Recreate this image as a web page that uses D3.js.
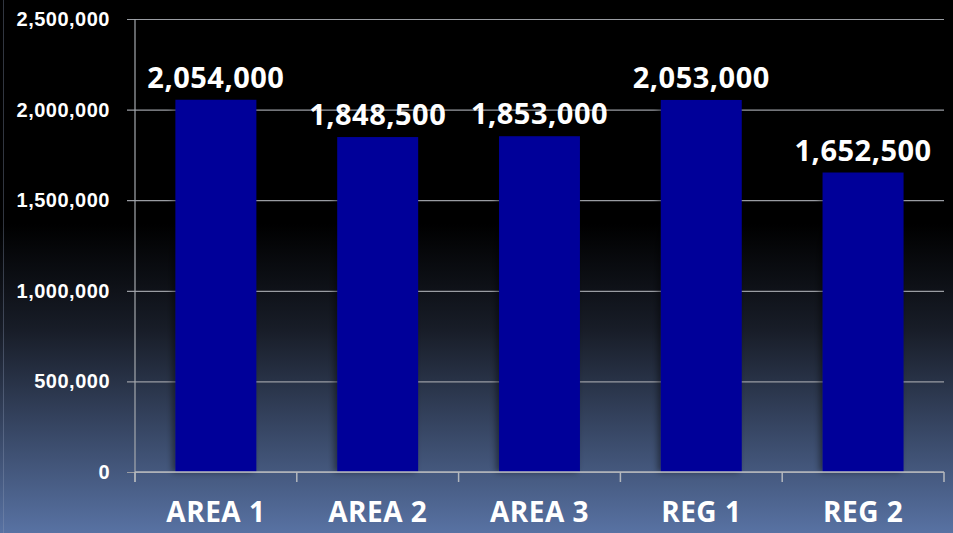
<!DOCTYPE html>
<html>
<head>
<meta charset="utf-8">
<script src="https://cdn.jsdelivr.net/npm/d3@7"></script>
<style>
  html, body { margin: 0; padding: 0; background: #000; }
  svg { display: block; font-family: "Open Sans", "Noto Sans", sans-serif; }
</style>
</head>
<body>
<div id="chart"></div>
<script>
// chart values
const categories = ["AREA 1", "AREA 2", "AREA 3", "REG 1", "REG 2"];
const values = [2054000, 1848500, 1853000, 2053000, 1652500];
const yTicks = [0, 500000, 1000000, 1500000, 2000000, 2500000];

(function barChart(){
    let width = 953,
    height = 533,
    margin = ({top: 19, right: 9, bottom: 61, left: 135})

    const svg = d3.select("#chart")
    .append("svg")
    .attr("width", width)
    .attr("height", height);

    // background gradient, black on top, slate blue at bottom
    const defs = svg.append("defs");
    const grad = defs.append("linearGradient")
    .attr("id", "bg")
    .attr("x1", 0).attr("y1", 0).attr("x2", 0).attr("y2", 1);
    grad.append("stop").attr("offset", "0%").attr("stop-color", "#000000");
    grad.append("stop").attr("offset", "42%").attr("stop-color", "#000000");
    grad.append("stop").attr("offset", "62%").attr("stop-color", "#181d28");
    grad.append("stop").attr("offset", "100%").attr("stop-color", "#5872a3");

    const shadow = defs.append("filter")
    .attr("id", "shadow")
    .attr("x", "-20%").attr("width", "140%");
    shadow.append("feDropShadow")
    .attr("dx", -3).attr("dy", 0)
    .attr("stdDeviation", 3)
    .attr("flood-color", "#000")
    .attr("flood-opacity", 0.45);

    svg.append("rect")
    .attr("width", width)
    .attr("height", height)
    .attr("fill", "url(#bg)");

    svg.append("line")
    .attr("x1", 3.5).attr("x2", 3.5)
    .attr("y1", 0).attr("y2", height)
    .attr("stroke", "#8d9cb8")
    .attr("stroke-opacity", 0.35);

    // scales
    let xScale = d3.scaleBand()
    .domain(categories)
    .range([margin.left, width - margin.right])
    .paddingInner(0.5)
    .paddingOuter(0.25);

    let yScale = d3.scaleLinear()
    .domain([0, 2500000])
    .range([height - margin.bottom, margin.top]);

    // gridlines + y axis labels
    const yAxis = svg.append("g")
    .attr("transform", `translate(${margin.left},0)`)
    .call(d3.axisLeft(yScale)
        .tickValues(yTicks)
        .tickFormat(d3.format(","))
        .tickSize(-(width - margin.right - margin.left))
        .tickPadding(25));
    yAxis.select(".domain").remove();
    yAxis.selectAll(".tick line")
    .attr("x1", -8)
    .attr("stroke", "#9a9da3")
    .attr("stroke-width", 1.2);
    yAxis.selectAll(".tick text")
    .attr("fill", "#fff")
    .attr("font-size", 20)
    .attr("font-weight", 700)
    .attr("letter-spacing", 0.5);

    // vertical axis line
    svg.append("line")
    .attr("x1", margin.left).attr("x2", margin.left)
    .attr("y1", margin.top)
    .attr("y2", height - margin.bottom + 10)
    .attr("stroke", "#a4a8ae")
    .attr("stroke-width", 1.2);

    // bars
    svg.selectAll("rect.bar")
    .data(values)
    .join("rect")
    .classed("bar", true)
    .attr("x", (d, i) => xScale(categories[i]))
    .attr("y", d => yScale(d))
    .attr("width", xScale.bandwidth())
    .attr("height", d => yScale(0) - yScale(d))
    .attr("fill", "#000099")
    .attr("filter", "url(#shadow)");

    // x axis with ticks between categories
    const step = xScale.step();
    const xAxis = svg.append("g")
    .attr("transform", `translate(0,${height - margin.bottom})`);
    xAxis.append("line")
    .attr("x1", margin.left).attr("x2", width - margin.right)
    .attr("stroke", "#b4b8be")
    .attr("stroke-width", 1.5);
    xAxis.selectAll("line.sep")
    .data(d3.range(categories.length + 1))
    .join("line")
    .classed("sep", true)
    .attr("x1", i => margin.left + i * step)
    .attr("x2", i => margin.left + i * step)
    .attr("y1", 0).attr("y2", 10)
    .attr("stroke", "#b4b8be")
    .attr("stroke-width", 1.5);
    xAxis.selectAll("text")
    .data(categories)
    .join("text")
    .attr("x", d => xScale(d) + xScale.bandwidth() / 2)
    .attr("y", 50)
    .attr("text-anchor", "middle")
    .attr("fill", "#fff")
    .attr("font-size", 28)
    .attr("font-weight", 700)
    .attr("letter-spacing", 0.5)
    .text(d => d);

    // value labels
    svg.selectAll("text.value")
    .data(values)
    .join("text")
    .classed("value", true)
    .attr("x", (d, i) => xScale(categories[i]) + xScale.bandwidth() / 2)
    .attr("y", d => yScale(d) - 12)
    .attr("text-anchor", "middle")
    .attr("fill", "#fff")
    .attr("font-size", 29)
    .attr("font-weight", 700)
    .attr("letter-spacing", 0.5)
    .text(d => d3.format(",")(d));
})();
</script>
</body>
</html>
